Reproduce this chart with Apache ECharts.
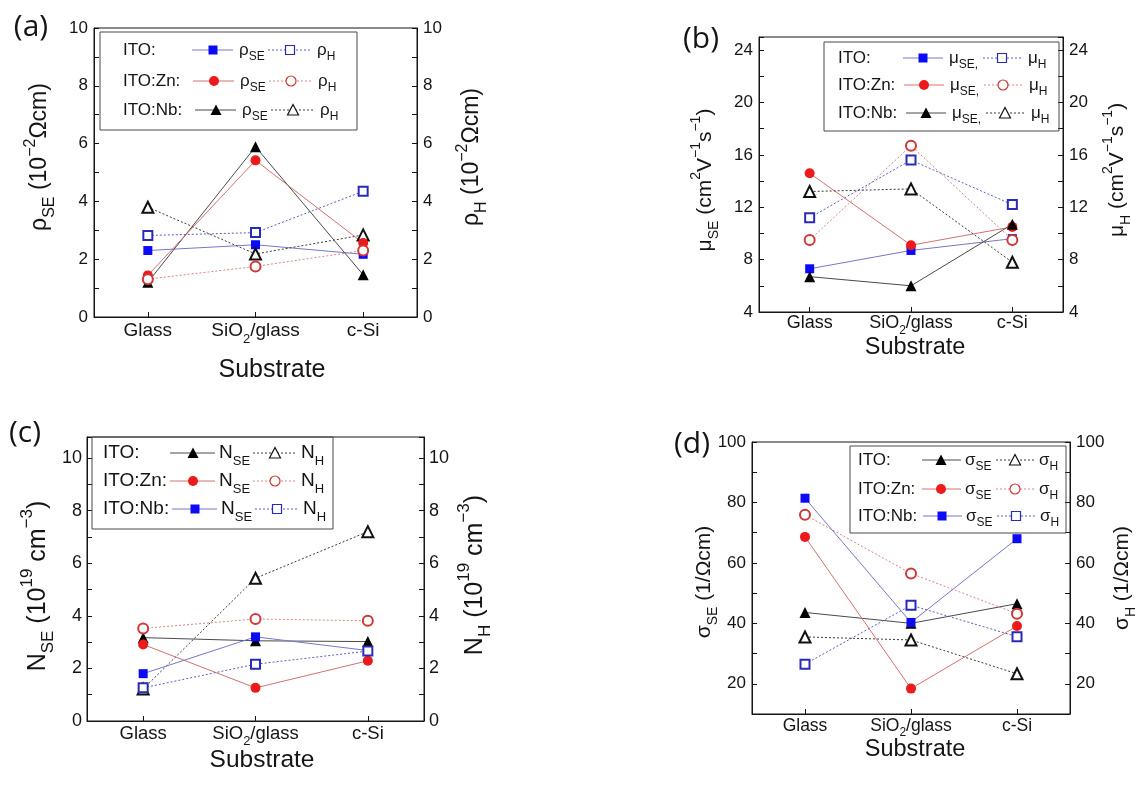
<!DOCTYPE html>
<html>
<head>
<meta charset="utf-8">
<script src="https://cdn.jsdelivr.net/npm/echarts@6/dist/echarts.min.js"></script>
<style>
  html, body { margin: 0; padding: 0; background: #ffffff; }
  #chart { width: 1137px; height: 792px; }
</style>
</head>
<body>
<div id="chart"></div>
<script>
// Substrates shared by all four panels
const categories = ['Glass', 'SiO2/glass', 'c-Si'];

// (a) resistivity, 10^-2 Ohm cm
const rhoSE_ITO = [2.30, 2.50, 2.17];
const rhoH_ITO  = [2.82, 2.92, 4.35];
const rhoSE_Zn  = [1.44, 5.42, 2.56];
const rhoH_Zn   = [1.31, 1.75, 2.30];
const rhoSE_Nb  = [1.20, 5.89, 1.46];
const rhoH_Nb   = [3.80, 2.18, 2.84];

// (b) mobility, cm^2 V^-1 s^-1
const muSE_ITO = [7.3, 8.7, 9.6];
const muH_ITO  = [11.2, 15.6, 12.2];
const muSE_Zn  = [14.6, 9.1, 10.5];
const muH_Zn   = [9.5, 16.7, 9.5];
const muSE_Nb  = [6.7, 6.0, 10.7];
const muH_Nb   = [13.2, 13.4, 7.8];

// (c) carrier concentration, 10^19 cm^-3
const nSE_ITO = [3.17, 3.05, 3.02];
const nH_ITO  = [1.22, 5.43, 7.20];
const nSE_Zn  = [2.91, 1.26, 2.29];
const nH_Zn   = [3.52, 3.88, 3.81];
const nSE_Nb  = [1.80, 3.20, 2.68];
const nH_Nb   = [1.26, 2.16, 2.66];

// (d) conductivity, 1/(Ohm cm)
const sigSE_ITO = [43.6, 40.0, 46.5];
const sigH_ITO  = [35.5, 34.5, 23.3];
const sigSE_Zn  = [68.6, 18.4, 39.1];
const sigH_Zn   = [75.9, 56.5, 43.2];
const sigSE_Nb  = [81.4, 40.3, 68.0];
const sigH_Nb   = [26.5, 46.0, 35.6];

const FONT = '"Liberation Sans", Arial, Helvetica, sans-serif';
const INK = '#151515';

const PALETTE = {
  blue:  { fill: '#0b0bf5', open: '#2a2ab8', solid: '#7777cc', dotted: '#5d5dc6' },
  red:   { fill: '#ec1a1a', open: '#cf3636', solid: '#d67070', dotted: '#d98585' },
  black: { fill: '#000000', open: '#111111', solid: '#4a4a4a', dotted: '#3c3c3c' }
};
const SYMBOL = { square: 'rect', circle: 'circle', triangle: 'triangle' };
const EMPTY = { square: 'emptyRect', circle: 'emptyCircle', triangle: 'emptyTriangle' };
const SIZE = { square: 9, circle: 10, triangle: 11 };

function richSet(fs) {
  const small = Math.round(fs * 0.68);
  return {
    m: { fontSize: fs, fontFamily: FONT, lineHeight: Math.round(fs * 1.5), color: INK, fill: INK },
    s: { fontSize: small, fontFamily: FONT, lineHeight: small, verticalAlign: 'bottom', color: INK, fill: INK },
    u: { fontSize: small, fontFamily: FONT, lineHeight: small, verticalAlign: 'top', color: INK, fill: INK }
  };
}

function textEl(x, y, text, fs, opts) {
  opts = opts || {};
  const align = opts.align || 'center';
  return {
    type: 'text', x: x, y: y, rotation: opts.rot || 0, z: 100, silent: true,
    style: {
      text: text, rich: richSet(fs), fontSize: fs, fontFamily: opts.family || FONT,
      fill: INK, align: align, textAlign: align,
      verticalAlign: 'middle', textVerticalAlign: 'middle'
    }
  };
}

function symbolEl(shape, cx, cy, filled, c) {
  const style = filled
    ? { fill: c.fill, stroke: null, lineWidth: 0 }
    : { fill: '#ffffff', stroke: c.open, lineWidth: 1.2 };
  if (shape === 'square') {
    return { type: 'rect', z: 101, silent: true, shape: { x: cx - 4.5, y: cy - 4.5, width: 9, height: 9 }, style: style };
  }
  if (shape === 'circle') {
    return { type: 'circle', z: 101, silent: true, shape: { cx: cx, cy: cy, r: 5 }, style: style };
  }
  return { type: 'polygon', z: 101, silent: true,
    shape: { points: [[cx, cy - 5.5], [cx + 5.5, cy + 5], [cx - 5.5, cy + 5]] }, style: style };
}

function legendEls(p) {
  const els = [{
    type: 'rect', z: 90, silent: true,
    shape: { x: p.box[0], y: p.box[1], width: p.box[2] - p.box[0], height: p.box[3] - p.box[1] },
    style: { fill: 'none', stroke: '#4a4a4a', lineWidth: 1 }
  }];
  p.rows.forEach(function (r) {
    const dx = r.dx || 0, y = r.y, c = PALETTE[r.color];
    els.push(textEl(p.labelX, y, '{m|' + r.label + '}', p.fs, { align: 'left' }));
    els.push({ type: 'line', z: 100, silent: true,
      shape: { x1: p.solid[0] + dx, y1: y, x2: p.solid[1] + dx, y2: y },
      style: { stroke: c.solid, lineWidth: 1 } });
    els.push(symbolEl(r.shape, p.solid[2] + dx, y, true, c));
    els.push(textEl(p.seX + dx, y, p.seText, p.fs, { align: 'left' }));
    els.push({ type: 'line', z: 100, silent: true,
      shape: { x1: p.dot[0] + dx, y1: y, x2: p.dot[1] + dx, y2: y },
      style: { stroke: c.dotted, lineWidth: 1, lineDash: [2, 2] } });
    els.push(symbolEl(r.shape, p.dot[2] + dx, y, false, c));
    els.push(textEl(p.hX + dx, y, p.hText, p.fs, { align: 'left' }));
  });
  return els;
}

function line(name, data, gi, color, shape, filled) {
  const c = PALETTE[color];
  return {
    type: 'line', name: name, data: data,
    xAxisIndex: gi, yAxisIndex: gi * 2 + (filled ? 0 : 1),
    symbol: filled ? SYMBOL[shape] : EMPTY[shape],
    symbolSize: SIZE[shape],
    showAllSymbol: true,
    lineStyle: { color: filled ? c.solid : c.dotted, width: 1, type: filled ? 'solid' : [2, 2] },
    itemStyle: filled
      ? { color: c.fill, borderWidth: 0 }
      : { color: c.open, borderColor: c.open, borderWidth: 1.2 },
    emphasis: { disabled: true },
    silent: true,
    animation: false
  };
}

function xAxis(gi, fs, margin) {
  const rich = richSet(fs);
  return {
    type: 'category', gridIndex: gi, data: categories, boundaryGap: true,
    axisLine: { show: true, onZero: false, lineStyle: { color: INK, width: 1 } },
    axisTick: { show: true, inside: true, alignWithLabel: true, length: 5, lineStyle: { color: INK } },
    axisLabel: {
      color: INK, fontFamily: FONT, fontSize: fs, margin: margin, rich: rich,
      interval: 0, hideOverlap: false,
      formatter: function (v) { return v === 'SiO2/glass' ? '{m|SiO}{s|2}{m|/glass}' : '{m|' + v + '}'; }
    },
    splitLine: { show: false }
  };
}

function yAxis(gi, pos, min, max, step, every, top, fs, margin) {
  return {
    type: 'value', gridIndex: gi, position: pos, min: min, max: max, interval: step,
    axisLine: { show: true, onZero: false, lineStyle: { color: INK, width: 1 } },
    axisTick: { show: true, inside: true, length: 5, lineStyle: { color: INK } },
    axisLabel: {
      color: INK, fontFamily: FONT, fontSize: fs, margin: margin, hideOverlap: false,
      formatter: function (v) {
        const k = v / every;
        return (Math.abs(k - Math.round(k)) < 1e-6 && v <= top + 1e-6) ? String(Math.round(v)) : '';
      }
    },
    splitLine: { show: false }
  };
}

function grid(left, top, width, height) {
  return { left: left, top: top, width: width, height: height, show: true,
    borderColor: INK, borderWidth: 1, backgroundColor: 'transparent' };
}

const grids = [
  grid(94, 28, 323, 289),    // (a)
  grid(759, 37, 304, 275),   // (b)
  grid(87, 437, 337, 284),   // (c)
  grid(752, 442, 318, 272)   // (d)
];

const xAxes = [xAxis(0, 19, -0.5), xAxis(1, 18, -2.2), xAxis(2, 18.5, -0.6), xAxis(3, 17.5, -1.1)];

const yAxes = [
  yAxis(0, 'left', 0, 10, 1, 2, 10, 17, 6),   yAxis(0, 'right', 0, 10, 1, 2, 10, 17, 6),
  yAxis(1, 'left', 4, 25, 2, 4, 24, 17, 6),   yAxis(1, 'right', 4, 25, 2, 4, 24, 17, 6),
  yAxis(2, 'left', 0, 10.8, 1, 2, 10, 18, 5), yAxis(2, 'right', 0, 10.8, 1, 2, 10, 18, 5),
  yAxis(3, 'left', 10, 100, 10, 20, 100, 17, 6), yAxis(3, 'right', 10, 100, 10, 20, 100, 17, 6)
];

const series = [
  // (a)
  line('ITO rho SE', rhoSE_ITO, 0, 'blue', 'square', true),
  line('ITO rho H', rhoH_ITO, 0, 'blue', 'square', false),
  line('ITO:Nb rho H', rhoH_Nb, 0, 'black', 'triangle', false),
  line('ITO:Nb rho SE', rhoSE_Nb, 0, 'black', 'triangle', true),
  line('ITO:Zn rho SE', rhoSE_Zn, 0, 'red', 'circle', true),
  line('ITO:Zn rho H', rhoH_Zn, 0, 'red', 'circle', false),
  // (b)
  line('ITO mu SE', muSE_ITO, 1, 'blue', 'square', true),
  line('ITO mu H', muH_ITO, 1, 'blue', 'square', false),
  line('ITO:Zn mu SE', muSE_Zn, 1, 'red', 'circle', true),
  line('ITO:Zn mu H', muH_Zn, 1, 'red', 'circle', false),
  line('ITO:Nb mu SE', muSE_Nb, 1, 'black', 'triangle', true),
  line('ITO:Nb mu H', muH_Nb, 1, 'black', 'triangle', false),
  // (c)
  line('ITO N SE', nSE_ITO, 2, 'black', 'triangle', true),
  line('ITO N H', nH_ITO, 2, 'black', 'triangle', false),
  line('ITO:Zn N SE', nSE_Zn, 2, 'red', 'circle', true),
  line('ITO:Zn N H', nH_Zn, 2, 'red', 'circle', false),
  line('ITO:Nb N SE', nSE_Nb, 2, 'blue', 'square', true),
  line('ITO:Nb N H', nH_Nb, 2, 'blue', 'square', false),
  // (d)
  line('ITO sigma SE', sigSE_ITO, 3, 'black', 'triangle', true),
  line('ITO sigma H', sigH_ITO, 3, 'black', 'triangle', false),
  line('ITO:Zn sigma SE', sigSE_Zn, 3, 'red', 'circle', true),
  line('ITO:Zn sigma H', sigH_Zn, 3, 'red', 'circle', false),
  line('ITO:Nb sigma SE', sigSE_Nb, 3, 'blue', 'square', true),
  line('ITO:Nb sigma H', sigH_Nb, 3, 'blue', 'square', false)
];

const R90 = Math.PI / 2;
const LABEL_FONT = '"Open Sans", "Liberation Sans", sans-serif';

const texts = [
  // panel letters
  textEl(31, 27, '(a)', 30, { family: LABEL_FONT }),
  textEl(701, 39, '(b)', 30, { family: LABEL_FONT }),
  textEl(25, 433, '(c)', 30, { family: LABEL_FONT }),
  textEl(692, 444, '(d)', 30, { family: LABEL_FONT }),
  // axis titles
  textEl(40, 157, '{m|ρ}{s|SE}{m| (10}{u|−2}{m|Ωcm)}', 23, { rot: R90 }),
  textEl(472, 157, '{m|ρ}{s|H}{m| (10}{u|−2}{m|Ωcm)}', 23, { rot: R90 }),
  textEl(272, 370, '{m|Substrate}', 25),
  textEl(705, 180, '{m|μ}{s|SE}{m| (cm}{u|2}{m|V}{u|−1}{m|s}{u|−1}{m|)}', 21, { rot: R90 }),
  textEl(1117, 170, '{m|μ}{s|H}{m| (cm}{u|2}{m|V}{u|−1}{m|s}{u|−1}{m|)}', 21, { rot: R90 }),
  textEl(915, 348, '{m|Substrate}', 23.5),
  textEl(38, 586, '{m|N}{s|SE}{m| (10}{u|19}{m| cm}{u|−3}{m|)}', 25, { rot: R90 }),
  textEl(475, 575, '{m|N}{s|H}{m| (10}{u|19}{m| cm}{u|−3}{m|)}', 25, { rot: R90 }),
  textEl(262, 760, '{m|Substrate}', 24.5),
  textEl(704, 582, '{m|σ}{s|SE}{m| (1/Ωcm)}', 21, { rot: R90 }),
  textEl(1122, 578, '{m|σ}{s|H}{m| (1/Ωcm)}', 21, { rot: R90 }),
  textEl(915, 750, '{m|Substrate}', 23.5)
];

const legends = [].concat(
  legendEls({
    box: [100, 32, 357, 130], fs: 17, labelX: 123,
    solid: [192, 233, 213], seX: 239, dot: [268, 310, 290], hX: 317,
    seText: '{m|ρ}{s|SE}', hText: '{m|ρ}{s|H}',
    rows: [
      { y: 50, label: 'ITO:', color: 'blue', shape: 'square', dx: 0 },
      { y: 81, label: 'ITO:Zn:', color: 'red', shape: 'circle', dx: 1 },
      { y: 110, label: 'ITO:Nb:', color: 'black', shape: 'triangle', dx: 3 }
    ]
  }),
  legendEls({
    box: [824, 42, 1059, 131], fs: 17, labelX: 838,
    solid: [903, 943, 923], seX: 949, dot: [983, 1023, 1002], hX: 1028,
    seText: '{m|μ}{s|SE,}', hText: '{m|μ}{s|H}',
    rows: [
      { y: 58, label: 'ITO:', color: 'blue', shape: 'square', dx: 0 },
      { y: 85, label: 'ITO:Zn:', color: 'red', shape: 'circle', dx: 1 },
      { y: 113, label: 'ITO:Nb:', color: 'black', shape: 'triangle', dx: 3 }
    ]
  }),
  legendEls({
    box: [92, 437, 333, 529], fs: 19, labelX: 103,
    solid: [170, 215, 193], seX: 219, dot: [253, 295, 275], hX: 301,
    seText: '{m|N}{s|SE}', hText: '{m|N}{s|H}',
    rows: [
      { y: 453, label: 'ITO:', color: 'black', shape: 'triangle', dx: 0 },
      { y: 481, label: 'ITO:Zn:', color: 'red', shape: 'circle', dx: 0 },
      { y: 509, label: 'ITO:Nb:', color: 'blue', shape: 'square', dx: 2 }
    ]
  }),
  legendEls({
    box: [850, 446, 1066, 533], fs: 17, labelX: 858,
    solid: [922, 961, 941], seX: 965, dot: [996, 1035, 1015], hX: 1039,
    seText: '{m|σ}{s|SE}', hText: '{m|σ}{s|H}',
    rows: [
      { y: 460, label: 'ITO:', color: 'black', shape: 'triangle', dx: 0 },
      { y: 489, label: 'ITO:Zn:', color: 'red', shape: 'circle', dx: 0 },
      { y: 516, label: 'ITO:Nb:', color: 'blue', shape: 'square', dx: 1 }
    ]
  })
);

const chart = echarts.init(document.getElementById('chart'), null, { renderer: 'canvas' });
chart.setOption({
  backgroundColor: '#ffffff',
  animation: false,
  grid: grids,
  xAxis: xAxes,
  yAxis: yAxes,
  series: series,
  graphic: { elements: texts.concat(legends) }
});
</script>
</body>
</html>
